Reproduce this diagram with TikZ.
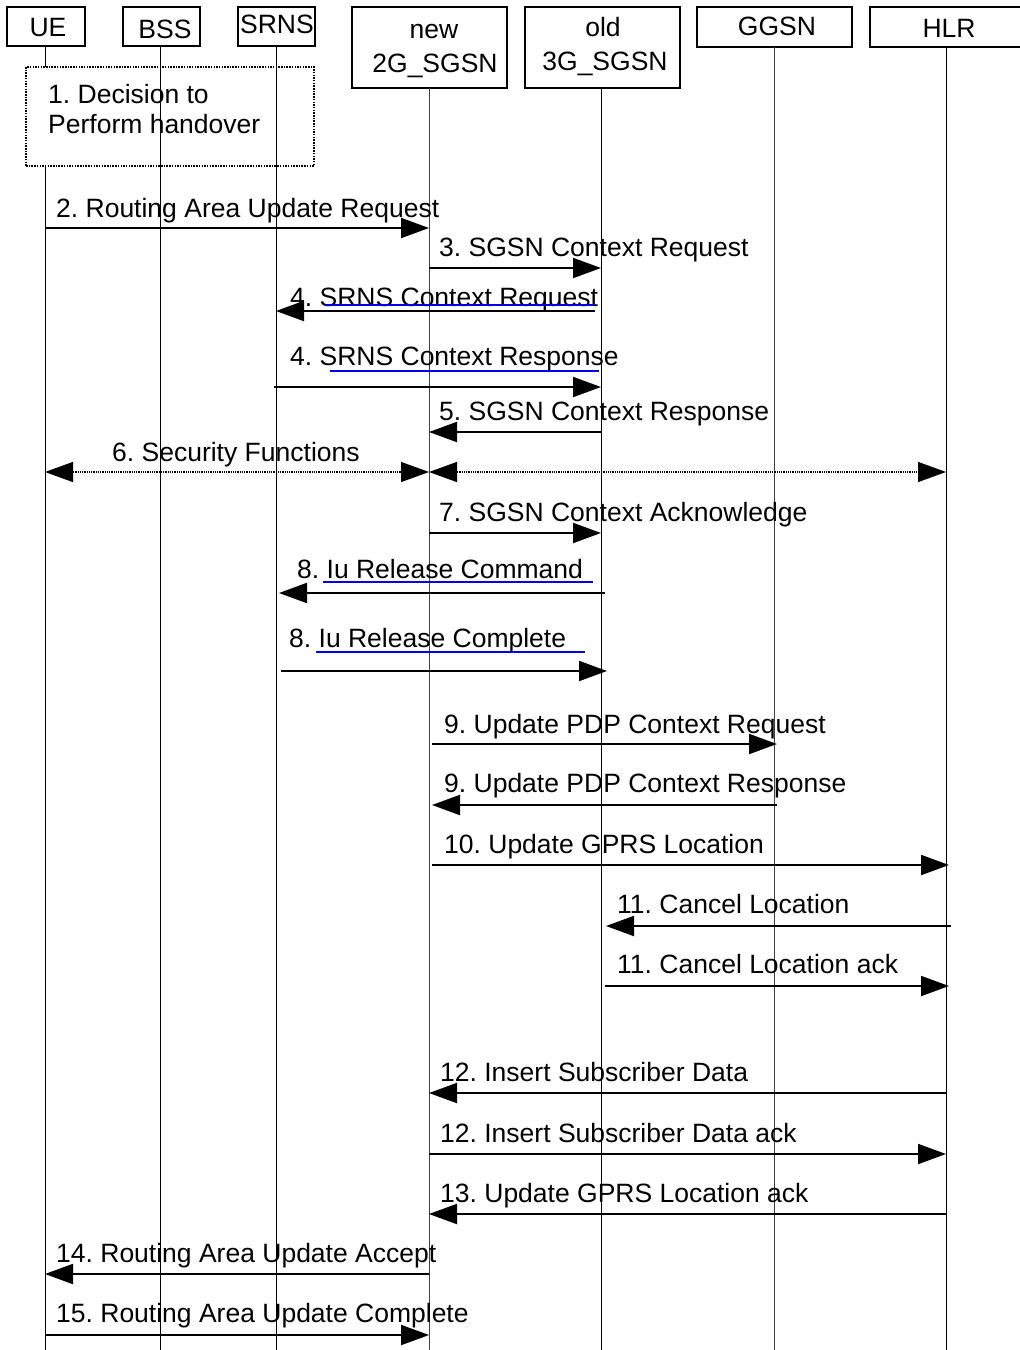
\documentclass[tikz,border=0pt]{standalone}
\usepackage{fontspec}
\setmainfont{Liberation Sans}
\usetikzlibrary{arrows.meta}
\definecolor{ulblue}{RGB}{0,0,230}
\frenchspacing
\newcommand{\seqmsg}[7]{%
  \coordinate (#1s) at (#2,#4);
  \coordinate (#1e) at (#3,#4);
  \draw[msg] (#1s) -- (#1e);
  \node[lbl] (#1t) at (#5,#6) {#7};}
\begin{document}
\begin{tikzpicture}[x=1pt,y=-1pt,
  hbox/.style={draw,line width=1.5pt,inner sep=0pt},
  htxt/.style={anchor=base,inner sep=0pt,font=\fontsize{26.5}{30}\selectfont\frenchspacing},
  lbl/.style={anchor=base west,inner sep=0pt,font=\fontsize{26.5}{30}\selectfont\frenchspacing},
  life/.style={line width=1pt},
  msg/.style={line width=2pt,-{Triangle[length=28pt,width=20pt]}},
  ul/.style={ulblue,line width=1.5pt}]
\useasboundingbox (0,0) rectangle (1020,1350);
% header boxes
\node[hbox,minimum width=78pt,minimum height=39pt] (ue) at (46,26.5) {};
\node[hbox,minimum width=77pt,minimum height=39pt] (bss) at (161.5,26.5) {};
\node[hbox,minimum width=77pt,minimum height=39pt] (srns) at (276.5,26.5) {};
\node[hbox,minimum width=155pt,minimum height=81pt] (sgsn2) at (429.5,47.5) {};
\node[hbox,minimum width=155pt,minimum height=81pt] (sgsn3) at (602.5,47.5) {};
\node[hbox,minimum width=155pt,minimum height=40pt] (ggsn) at (774.5,27) {};
\node[hbox,minimum width=151pt,minimum height=40pt] (hlr) at (945.5,27) {};
% header texts
\node[htxt] (ueT) at (48,36) {UE};
\node[htxt] (bssT) at (165,38) {BSS};
\node[htxt] (srnsT) at (277,33) {SRNS};
\node[htxt] (sgsn2Ta) at (434,38) {new};
\node[htxt] (sgsn2Tb) at (435,72) {2G\_SGSN};
\node[htxt] (sgsn3Ta) at (603,36) {old};
\node[htxt] (sgsn3Tb) at (605,70) {3G\_SGSN};
\node[htxt] (ggsnT) at (777,35) {GGSN};
\node[htxt] (hlrT) at (949,37) {HLR};
% lifelines
\coordinate (ueA) at (45,46); \coordinate (ueB) at (45,67);
\coordinate (ueC) at (45,166); \coordinate (ueD) at (45,1350);
\coordinate (bssA) at (160,46); \coordinate (bssD) at (160,1350);
\coordinate (srnsA) at (276,46); \coordinate (srnsD) at (276,1350);
\coordinate (s2A) at (429,88); \coordinate (s2D) at (429,1350);
\coordinate (s3A) at (601,88); \coordinate (s3D) at (601,1350);
\coordinate (ggA) at (774,47); \coordinate (ggD) at (774,1350);
\coordinate (hlA) at (946,47); \coordinate (hlD) at (946,1350);
\draw[life] (ueA) -- (ueB);
\draw[life] (ueC) -- (ueD);
\draw[life] (bssA) -- (bssD);
\draw[life] (srnsA) -- (srnsD);
\draw[life,black!75] (s2A) -- (s2D);
\draw[life] (s3A) -- (s3D);
\draw[life,black!75] (ggA) -- (ggD);
\draw[life] (hlA) -- (hlD);
% step 1 box
\node[draw,line width=2pt,dash pattern=on 1.5pt off 1.2pt,minimum width=288pt,minimum height=99pt,inner sep=0pt] (dec) at (170,116.5) {};
\node[lbl] (decA) at (48,103) {1. Decision to};
\node[lbl] (decB) at (48,133) {Perform handover};
% messages
\seqmsg{m2}{45}{429}{228}{56}{217}{2. Routing Area Update Request}
\seqmsg{m3}{429}{601}{268}{439}{256}{3. SGSN Context Request}
\seqmsg{m4a}{595}{276}{311}{290}{306}{4. SRNS Context Request}
\seqmsg{m4b}{274}{601}{387}{290}{365}{4. SRNS Context Response}
\seqmsg{m5}{601}{429}{432}{439}{420}{5. SGSN Context Response}
\seqmsg{m7}{429}{601}{533}{439}{521}{7. SGSN Context Acknowledge}
\seqmsg{m8a}{605}{279}{593}{297}{578}{8. Iu Release Command}
\seqmsg{m8b}{281}{607}{671}{289}{647}{8. Iu Release Complete}
\seqmsg{m9a}{432}{777}{744}{444}{733}{9. Update PDP Context Request}
\seqmsg{m9b}{777}{432}{805}{444}{792}{9. Update PDP Context Response}
\seqmsg{m10}{432}{949}{865}{444}{853}{10. Update GPRS Location}
\seqmsg{m11a}{951}{606}{926}{617}{913}{11. Cancel Location}
\seqmsg{m11b}{605}{949}{986}{617}{973}{11. Cancel Location ack}
\seqmsg{m12a}{946}{429}{1093}{440}{1081}{12. Insert Subscriber Data}
\seqmsg{m12b}{429}{946}{1154}{440}{1142}{12. Insert Subscriber Data ack}
\seqmsg{m13}{946}{429}{1214}{440}{1202}{13. Update GPRS Location ack}
\seqmsg{m14}{429}{45}{1274}{56}{1262}{14. Routing Area Update Accept}
\seqmsg{m15}{45}{429}{1335}{56}{1322}{15. Routing Area Update Complete}
% security functions
\coordinate (m6a) at (45,472); \coordinate (m6b) at (429,472); \coordinate (m6c) at (946,472);
\draw[line width=1.2pt,dash pattern=on 1pt off 0.8pt,{Triangle[length=28pt,width=20pt]}-{Triangle[length=28pt,width=20pt]}] (m6a) -- (m6b);
\draw[line width=1.2pt,dash pattern=on 1pt off 0.8pt,{Triangle[length=28pt,width=20pt]}-{Triangle[length=28pt,width=20pt]}] (m6b) -- (m6c);
\node[lbl] (m6t) at (112,461) {6. Security Functions};
% blue underlines
\draw[ul] (326,305) -- (595,305);
\draw[ul] (330,371) -- (599,371);
\draw[ul] (323,582) -- (593,582);
\draw[ul] (316,652) -- (585,652);
\end{tikzpicture}
\end{document}
